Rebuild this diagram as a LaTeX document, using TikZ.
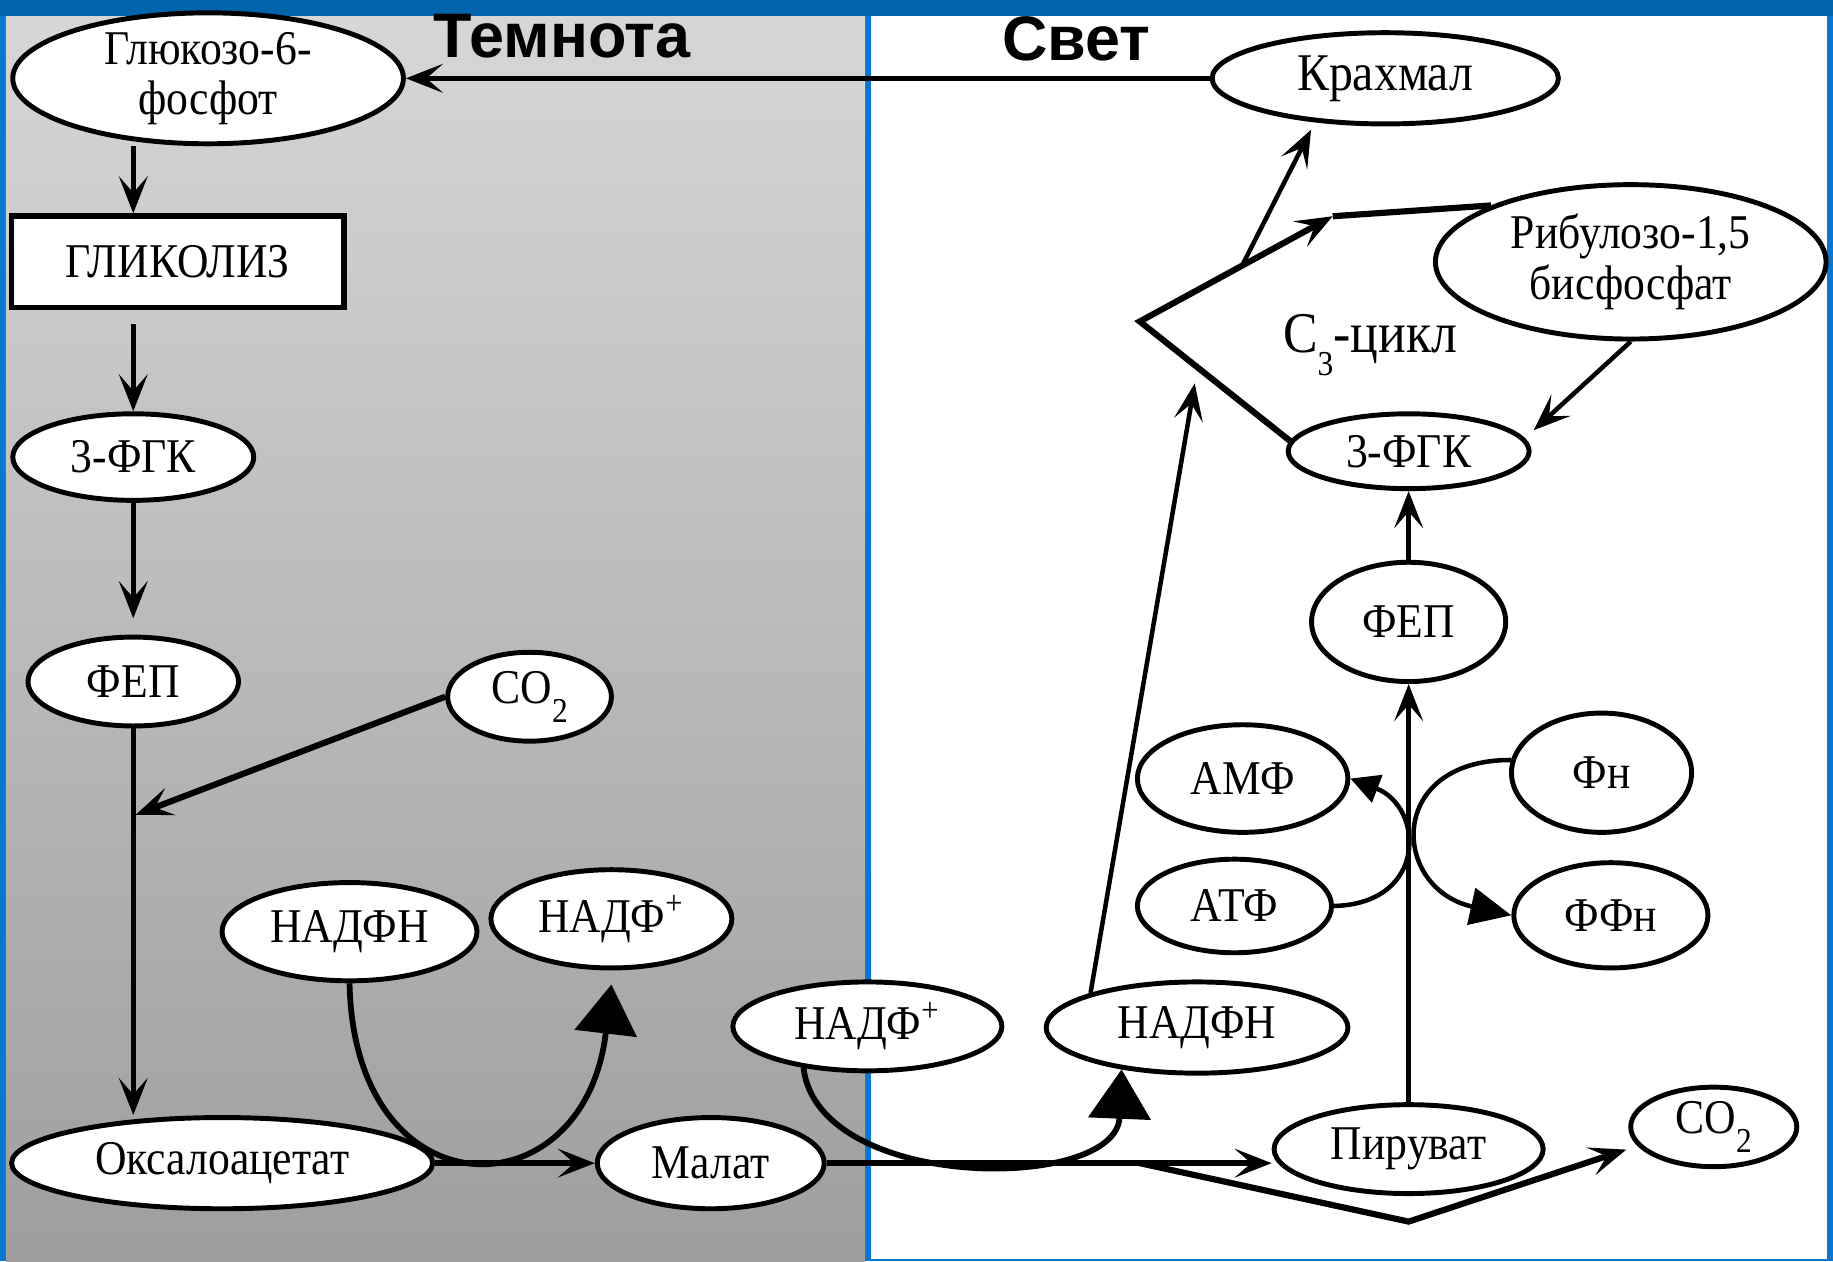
\documentclass[tikz,border=0pt]{standalone}
\usepackage{fontspec}
\setmainfont[FakeStretch=0.9]{Liberation Serif}
\newfontfamily\headfont{Liberation Sans}
\usetikzlibrary{arrows.meta, shapes.geometric}
\definecolor{bandblue}{RGB}{0,100,172}
\definecolor{edgeblue}{RGB}{10,118,205}
\definecolor{graytop}{RGB}{214,214,214}
\definecolor{graybot}{RGB}{158,158,158}
\newcommand{\low}[1]{\raisebox{-0.4em}{\fontsize{8.5}{8.5}\selectfont #1}}

\begin{document}
\begin{tikzpicture}[x=0.01cm, y=-0.01cm,
	every node/.style={font=\fontsize{11.8}{12.2}\selectfont},
	mol/.style 2 args={ellipse, draw, line width=1.2pt, fill=white, inner sep=0pt, minimum width=#1, minimum height=#2, align=center},
	arr/.style={-{Stealth[length=9pt, width=7pt, inset=4pt]}, line width=1.1pt},
	fat/.style={arr, line width=1.5pt},
	big/.style={-{Triangle[length=12pt, width=15pt]}, line width=1.4pt},
	small/.style={-{Triangle[length=7pt, width=7pt]}, line width=1.1pt},
	mid/.style={-{Triangle[length=10pt, width=9pt]}, line width=1.1pt}]
	\useasboundingbox (0,0) rectangle (1568,1079);
	% background panels
	\fill[edgeblue] (0,0) rectangle (1568,1079);
	\fill[bandblue] (0,0) rectangle (1568,14);
	\shade[top color=graytop, bottom color=graybot] (5,14) rectangle (740,1079);
	\fill[white] (745,14) rectangle (1563,1077);
	\node[font=\headfont\bfseries\fontsize{15.3}{17}\selectfont] (dark) at (481,31) {Темнота};
	\node[font=\headfont\bfseries\fontsize{15.3}{17}\selectfont] (light) at (921,33) {Свет};
	% dark side
	\node[mol={3.34cm}{1.04cm}] (gl) at (178,67) {Глюкозо-6-\\фосфот};
	\node[draw, line width=1.4pt, fill=white, minimum width=2.84cm, minimum height=0.78cm] (gk) at (152,224) {ГЛИКОЛИЗ};
	\node[mol={2.06cm}{0.74cm}] (fgkL) at (114,391) {3-ФГК};
	\node[mol={1.80cm}{0.76cm}] (fepL) at (114,583) {ФЕП};
	\node[mol={1.40cm}{0.76cm}] (co2L) at (453,596) {CO\low{2}};
	\node[mol={2.18cm}{0.84cm}] (ndL) at (299,797) {НАДФН};
	\node[mol={2.06cm}{0.84cm}] (ndpL) at (523,786) {НАДФ\textsuperscript{+}};
	\node[mol={3.60cm}{0.78cm}] (ox) at (190,995) {Оксалоацетат};
	\node[mol={1.94cm}{0.78cm}] (ma) at (608,995) {Малат};
	% light side
	\node[mol={2.30cm}{0.76cm}] (ndpM) at (742,878) {НАДФ\textsuperscript{+}};
	\node[mol={2.58cm}{0.78cm}] (ndR) at (1024,879) {НАДФН};
	\node[mol={2.30cm}{0.76cm}] (pv) at (1205,983) {Пируват};
	\node[mol={1.42cm}{0.68cm}] (co2R) at (1466,964) {CO\low{2}};
	\node[mol={1.66cm}{0.80cm}] (atf) at (1056,775) {АТФ};
	\node[mol={1.80cm}{0.92cm}] (amf) at (1063,666) {АМФ};
	\node[mol={1.54cm}{1.02cm}] (fn) at (1370,661) {Фн};
	\node[mol={1.66cm}{0.90cm}] (ffn) at (1378,783) {ФФн};
	\node[mol={1.66cm}{1.02cm}] (fepR) at (1205,532) {ФЕП};
	\node[mol={2.06cm}{0.64cm}] (fgkR) at (1205,386) {3-ФГК};
	\node[mol={3.34cm}{1.32cm}] (rb) at (1395,224) {Рибулозо-1,5\\бисфосфат};
	\node[mol={2.96cm}{0.78cm}, font=\fontsize{12.9}{14}\selectfont] (kr) at (1185,67) {Крахмал};
	\node[font=\fontsize{14}{16}\selectfont] (cyc) at (1172,295) {C\low{3}-цикл};
	% left column
	\draw[arr] (kr.west) -- (kr.west -| gl.east);
	\draw[arr] (gl.south -| fgkL) -- (gk.north -| fgkL);
	\draw[arr, shorten <=0.12cm] (gk.south -| fgkL) -- (fgkL.north);
	\draw[arr, shorten >=0.14cm] (fgkL.south) -- (fepL.north);
	\draw[arr] (fepL.south) -- (fepL.south |- ox.north);
	\coordinate (jn) at (116,697);
	\draw[fat] (co2L.west) -- (jn);
	\draw[fat] (ox.east) -- (ma.west);
	\draw[big] (ndL.south) .. controls (303,1040) and (500,1040) .. ([yshift=-0.12cm]ndpL.south);
	% malate to pyruvate
	\draw[fat] (ma.east) -- (ma.east -| pv.west);
	\coordinate (fork) at (975,995);
	\coordinate (dip) at (1205,1045);
	\draw[fat, shorten >=0.1cm] (fork) -- (dip) -- (co2R.-166);
	\draw[big] (ndpM.-147) .. controls (700,1020) and (955,1020) .. (ndR.-151);
	\coordinate (cin) at (1022,328);
	\draw[arr] (ndR.162) -- (cin);
	\draw[arr] (pv.north) -- (fepR.south);
	\draw[arr] (fepR.north) -- (fgkR.south);
	\draw[small] (atf.east) .. controls (1222,773) and (1218,690) .. (amf.east);
	\draw[mid] (fn.172) .. controls (1185,650) and (1190,760) .. (ffn.west);
	% C3 cycle
	\coordinate (vx) at (975,275);
	\coordinate (ctop) at (1140,185);
	\draw[fat] (fgkR.175) -- (vx) -- (ctop);
	\draw[line width=1.5pt] (ctop) -- (rb.158);
	\path (vx) -- (ctop) coordinate[pos=0.53] (split);
	\draw[arr, shorten >=0.07cm] (split) -- (kr.-148);
	\coordinate (rbend) at (1312,368);
	\draw[arr] (rb.south) -- (rbend);
\end{tikzpicture}
\end{document}
